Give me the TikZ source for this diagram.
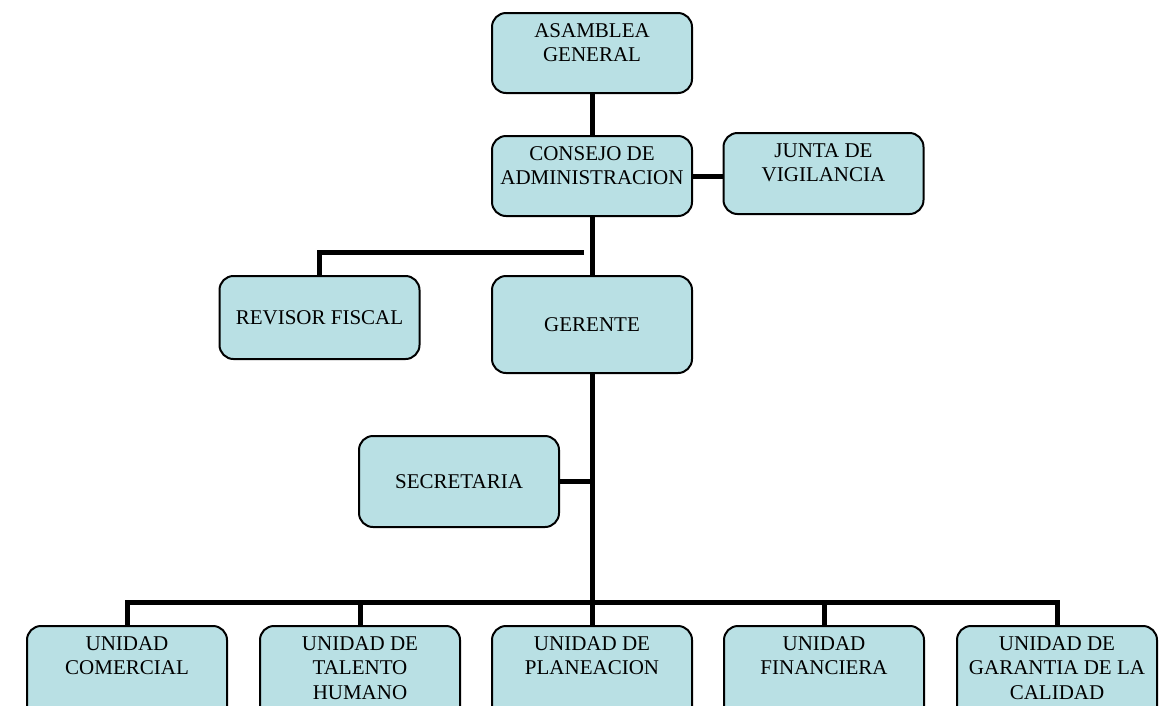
\documentclass[tikz,border=0pt]{standalone}
\usepackage{fontspec}
\setmainfont{Liberation Serif}
\usepackage{tikz}
\usetikzlibrary{positioning, calc}

\definecolor{boxfill}{RGB}{185,224,228}
\newcommand{\orgfont}{\fontsize{21}{24.5}\selectfont}

\begin{document}
\begin{tikzpicture}[
    x=1pt, y=-1pt,
    box/.style={draw, line width=2pt, rounded corners=14pt, fill=boxfill,
                minimum width=200pt, inner sep=0pt, align=center, font=\orgfont},
    lbl/.style={anchor=north, align=center, inner sep=0pt, font=\orgfont, yshift=-11pt},
    toptext/.style={label={[lbl]north:#1}},
    link/.style={line width=5pt},
]
\useasboundingbox (0,0) rectangle (1166,705);
\clip (0,0) rectangle (1166,705);

% top levels
\node[box, anchor=north, minimum height=80pt, toptext={ASAMBLEA\\GENERAL}] (asam) at (592,12) {};
\node[box, anchor=north, minimum height=80pt, toptext={CONSEJO DE\\ADMINISTRACION}] (consejo) at (592,135) {};
\node[box, anchor=north, minimum height=81pt, toptext={JUNTA DE\\VIGILANCIA}] (junta) at (823.5,132) {};

% middle
\node[box, anchor=north, minimum height=83pt] (revisor) at (319.5,275) {REVISOR FISCAL};
\node[box, anchor=north, minimum height=97pt] (gerente) at (592,275) {GERENTE};
\node[box, anchor=north, minimum height=91pt] (secretaria) at (459,435) {SECRETARIA};

% units
\foreach \x/\name/\txt in {127/ucom/{UNIDAD\\COMERCIAL},
                           360/utal/{UNIDAD DE\\TALENTO\\HUMANO},
                           592/uplan/{UNIDAD DE\\PLANEACION},
                           824/ufin/{UNIDAD\\FINANCIERA},
                           1057/ugar/{UNIDAD DE\\GARANTIA DE LA\\CALIDAD}}
    \node[box, anchor=north, minimum height=110pt, toptext=\txt] (\name) at (\x,625) {};

% connectors
\draw[link] (asam) -- (consejo);
\draw[link] (consejo.east) -- (consejo.east -| junta.west);
\draw[link] (consejo) -- (gerente);
\coordinate (rvjoint) at (584,252);
\draw[link] (rvjoint) -| (revisor.north);
\coordinate (bus) at (592,602);
\draw[link] (gerente) -- (bus);
\draw[link] (secretaria.east) -- (secretaria.east -| gerente.south);
\foreach \u in {ucom,utal,uplan,ufin,ugar}
    \draw[link] (bus) -| (\u.north);

\end{tikzpicture}
\end{document}
